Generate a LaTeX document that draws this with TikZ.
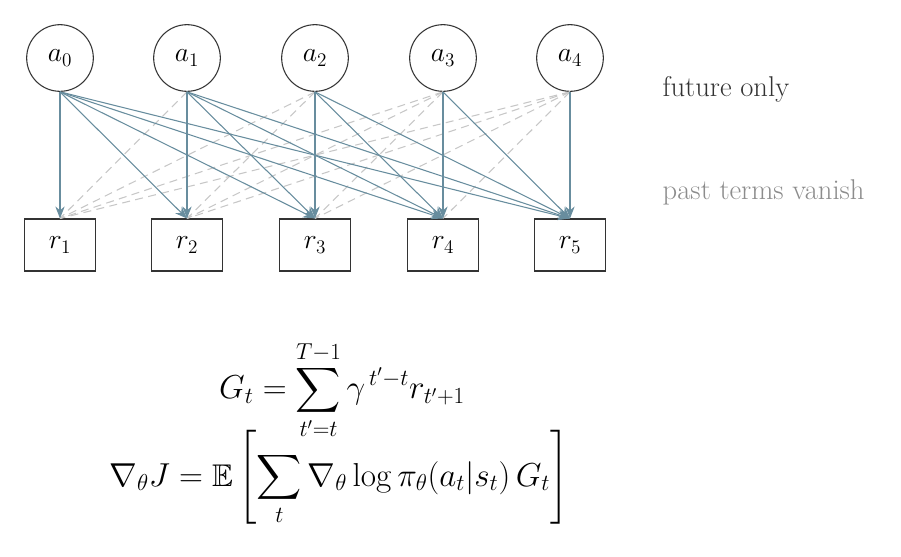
\documentclass[tikz,border=0pt]{standalone}
\usepackage{amsmath,amssymb}
\usetikzlibrary{arrows.meta}
\begin{document}
\begin{tikzpicture}[x=0.75pt,y=-0.75pt,
  act/.style={circle,draw=black!80,thick,minimum size=50pt,inner sep=0pt,font=\fontsize{21}{25}\selectfont},
  rew/.style={rectangle,draw=black!80,thick,minimum width=53pt,minimum height=39pt,inner sep=0pt,font=\fontsize{21}{25}\selectfont},
  fut/.style={draw={rgb,255:red,104;green,141;blue,158},thick,-{Stealth[length=9pt,width=7pt]}},
  past/.style={draw=black!22,thick,dashed,dash pattern=on 6pt off 4pt},
  lab/.style={anchor=west,font=\fontsize{15}{18}\selectfont},
  eq/.style={font=\fontsize{23.5}{28}\selectfont}]
\useasboundingbox (0,0) rectangle (901,557);
\foreach \i/\x in {0/60,1/187,2/315,3/443,4/570}{
  \node[act] (a\i) at (\x,58) {$a_{\i}$};}
\foreach \j/\x in {1/60,2/187,3/315,4/443,5/570}{
  \node[rew] (r\j) at (\x,245) {$r_{\j}$};}
\foreach \i in {1,...,4}{
  \foreach \j in {1,...,\i}{
    \draw[past] (a\i.south) -- (r\j.north);}}
\foreach \i in {0,...,4}{
  \pgfmathtruncatemacro\s{\i+1}
  \foreach \j in {\s,...,5}{
    \draw[fut] (a\i.south) -- (r\j.north);}}
\node[lab,text=black!80,scale=1.43] (f) at (656,89) {future only};
\node[lab,text=black!45,scale=1.43] (p) at (656,192) {past terms vanish};
\node[eq] (e1) at (342,390) {$\displaystyle G_t=\sum_{t'=t}^{T-1}\gamma^{\,t'-t}r_{t'+1}$};
\node[eq] (e2) at (339,478) {$\displaystyle \nabla_\theta J=\mathbb{E}\left[\sum_t \nabla_\theta\log\pi_\theta(a_t|s_t)\,G_t\right]$};
\end{tikzpicture}
\end{document}
